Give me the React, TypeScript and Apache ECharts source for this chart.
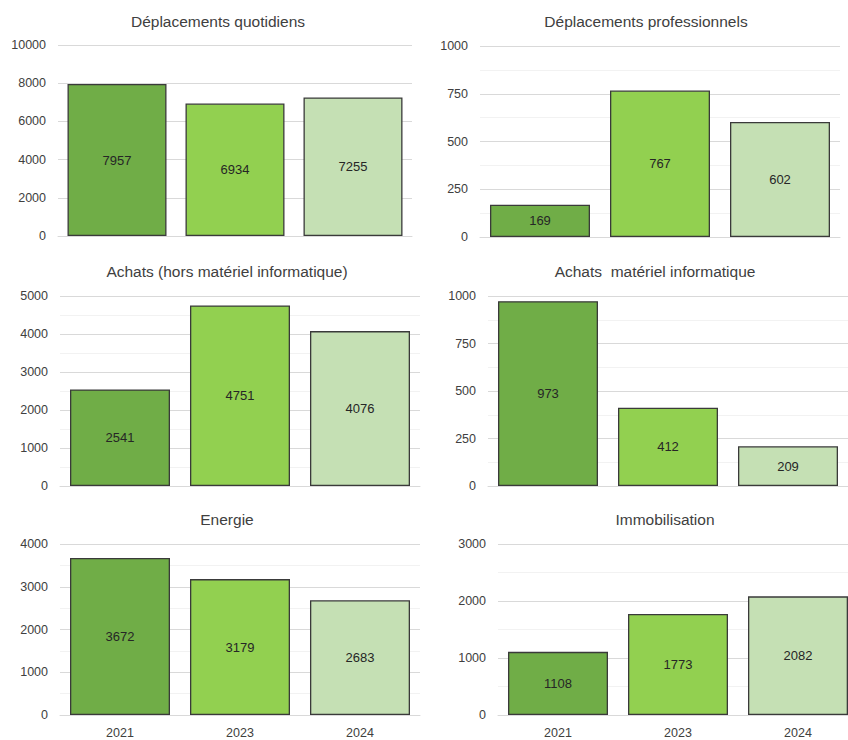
import React, { useEffect, useRef } from "react";
import * as echarts from "echarts";

// Years shown on every panel
const years = ["2021", "2023", "2024"];
const barColors = ["#70AD47", "#92D050", "#C5E0B4"];

// Panel titles
const titles = [
  "Déplacements quotidiens",
  "Déplacements professionnels",
  "Achats (hors matériel informatique)",
  "Achats  matériel informatique",
  "Energie",
  "Immobilisation",
];

// Values per panel (2021, 2023, 2024)
const deplacementsQuotidiens = [7957, 6934, 7255];
const deplacementsProfessionnels = [169, 767, 602];
const achatsHorsInfo = [2541, 4751, 4076];
const achatsInfo = [973, 412, 209];
const energie = [3672, 3179, 2683];
const immobilisation = [1108, 1773, 2082];

// Value axis ranges per panel
const axisMax = [10000, 1000, 5000, 1000, 4000, 3000];
const axisInterval = [2000, 250, 1000, 250, 1000, 1000];

const seriesValues = [
  deplacementsQuotidiens,
  deplacementsProfessionnels,
  achatsHorsInfo,
  achatsInfo,
  energie,
  immobilisation,
];

// Layout of each panel's plotting area (px); the last panel runs past the visible edge
const layout = [
  { left: 58, width: 354, top: 45, height: 191, titleX: 213, titleY: 20, minor: false },
  { left: 480, width: 360, top: 46, height: 191, titleX: 641, titleY: 20, minor: true },
  { left: 60, width: 360, top: 296, height: 190, titleX: 222, titleY: 270, minor: true },
  { left: 488, width: 360, top: 296, height: 190, titleX: 650, titleY: 270, minor: true },
  { left: 60, width: 360, top: 544, height: 171, titleX: 222, titleY: 518, minor: true },
  { left: 498, width: 360, top: 544, height: 171, titleX: 660, titleY: 518, minor: true },
];

const FONT = "'Liberation Sans', Arial, sans-serif";

export default function App() {
  const ref = useRef<HTMLDivElement>(null);

  useEffect(() => {
    document.body.style.margin = "0";
    if (!ref.current) return;
    const chart = echarts.init(ref.current, null, { renderer: "svg" });

    const option: any = {
      animation: false,
      backgroundColor: "#ffffff",
      textStyle: { fontFamily: FONT },
      title: titles.map((t, i) => ({
        text: t,
        left: layout[i].titleX,
        top: layout[i].titleY - 12,
        textAlign: "center",
        textStyle: {
          fontFamily: FONT,
          fontSize: 15.5,
          fontWeight: "normal",
          color: "#404040",
        },
      })),
      grid: layout.map((l) => ({
        left: l.left,
        width: l.width,
        top: l.top,
        height: l.height,
        containLabel: false,
        outerBoundsMode: "none",
      })),
      xAxis: layout.map((_, i) => ({
        type: "category",
        gridIndex: i,
        data: years,
        axisTick: { show: false },
        axisLine: { lineStyle: { color: "#D9D9D9", width: 1 } },
        axisLabel: {
          show: i >= 4,
          margin: 11,
          fontFamily: FONT,
          fontSize: 12.5,
          color: "#404040",
        },
      })),
      yAxis: layout.map((l, i) => ({
        type: "value",
        gridIndex: i,
        min: 0,
        max: axisMax[i],
        interval: axisInterval[i],
        axisLine: { show: false },
        axisTick: { show: false },
        axisLabel: {
          margin: 12,
          fontFamily: FONT,
          fontSize: 12.5,
          color: "#404040",
          formatter: (v: number) => String(v),
        },
        splitLine: { lineStyle: { color: "#D9D9D9", width: 1 } },
        minorTick: { show: false, splitNumber: 2 },
        minorSplitLine: { show: l.minor, lineStyle: { color: "#F2F2F2", width: 1 } },
      })),
      series: seriesValues.map((vals, i) => ({
        type: "bar",
        xAxisIndex: i,
        yAxisIndex: i,
        barWidth: i === 0 ? 99 : 100,
        data: vals.map((v, j) => ({
          value: v,
          itemStyle: {
            color: barColors[j],
            borderColor: "#3a3a3a",
            borderWidth: 1.3,
          },
        })),
        label: {
          show: true,
          position: "inside",
          fontFamily: FONT,
          fontSize: 13,
          color: "#262626",
        },
      })),
    };

    chart.setOption(option);
    return () => chart.dispose();
  }, []);

  return (
    <div style={{ width: 848, height: 740, overflow: "hidden" }}>
      <div ref={ref} style={{ width: 880, height: 740 }} />
    </div>
  );
}
